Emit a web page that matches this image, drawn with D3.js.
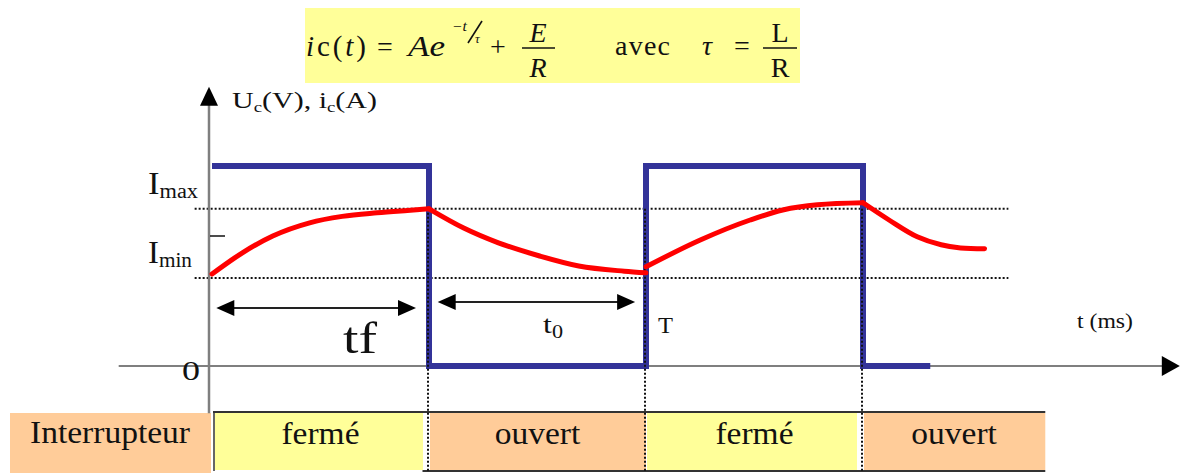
<!DOCTYPE html>
<html><head><meta charset="utf-8">
<script src="https://cdn.jsdelivr.net/npm/d3@7"></script>
<style>
body{margin:0;background:#fff}
svg{display:block}
text{font-family:"Liberation Serif","Times New Roman",serif;fill:#111}
</style>
</head><body>
<svg id="c" width="1182" height="473"></svg>
<script>
// ---------- data ----------
const switchTimes   = [0, 1, 2, 3, 3.31];
const voltageLevels = [5, 0, 5, 0, 0];

const seg1T = [0, 0.14, 0.28, 0.45, 0.6, 0.76, 0.9, 1];
const seg1I = [2.30, 2.83, 3.25, 3.58, 3.74, 3.83, 3.89, 3.93];
const seg2T = [1, 1.16, 1.32, 1.51, 1.69, 1.9, 2];
const seg2I = [3.93, 3.45, 3.08, 2.75, 2.50, 2.37, 2.33];
const seg3T = [2, 2.25, 2.48, 2.63, 2.79, 3];
const seg3I = [2.48, 3.15, 3.65, 3.90, 4.03, 4.08];
const seg4T = [3, 3.12, 3.25, 3.36, 3.45, 3.56];
const seg4I = [4.08, 3.65, 3.23, 3.03, 2.95, 2.93];

const levelNames  = ["max", "min"];
const levelValues = [3.93, 2.2];
const yTickValues = [3.25];
const zeroLabel   = "0";

const stateLabels = ["fermé", "ouvert", "fermé", "ouvert"];
const stateStarts = [0, 1, 2, 3];
const stateEnds   = [1, 2, 3, 3.84];
const rowTitle    = "Interrupteur";

// ---------- styles / layout ----------
const blue = "#333399", red = "#ff0000", yellow = "#ffff99", orange = "#ffcc99";
const svg = d3.select("#c");
const xs = d3.scaleLinear().domain([0, 3]).range([212, 863]);
const ys = d3.scaleLinear().domain([0, 5]).range([366, 166]);

function label(x, y, parts, o = {}) {
  const t = svg.append("text").attr("x", x).attr("y", y)
    .attr("font-size", o.size || 24).attr("text-anchor", o.anchor || "start");
  parts.forEach(p => {
    const s = t.append("tspan").text(p.t);
    if (p.size) s.attr("font-size", p.size);
    if (p.dy) s.attr("dy", p.dy);
    if (p.it) s.attr("font-style", "italic");
  });
  if (o.w) t.attr("textLength", o.w).attr("lengthAdjust", o.sp ? "spacing" : "spacingAndGlyphs");
  if (o.k) {
    const len = t.node().getComputedTextLength();
    t.attr("textLength", len * o.k).attr("lengthAdjust", "spacingAndGlyphs");
  }
  return t;
}

// ---------- formula ----------
svg.append("rect").attr("x", 305).attr("y", 8).attr("width", 495).attr("height", 75).attr("fill", yellow);
label(306, 56, [{t:"i", it:1}, {t:"c"}, {t:"("}, {t:"t", it:1}, {t:")"}], {size:29, w:60, sp:1});
label(377, 56, [{t:"="}], {size:28});
label(408, 56, [{t:"Ae", it:1}], {size:29, w:37});
label(452, 31, [{t:"−t", it:1}], {size:14, w:15});
svg.append("line").attr("x1", 468).attr("y1", 43).attr("x2", 482).attr("y2", 21).attr("stroke", "#111").attr("stroke-width", 1.6);
label(475, 43, [{t:"τ", it:1}], {size:13});
label(490, 56, [{t:"+"}], {size:28});
label(538, 42, [{t:"E", it:1}], {size:28, anchor:"middle"});
svg.append("line").attr("x1", 522).attr("x2", 555).attr("y1", 48).attr("y2", 48).attr("stroke", "#111").attr("stroke-width", 1.6);
label(538, 77, [{t:"R", it:1}], {size:28, anchor:"middle"});
label(615, 55, [{t:"avec"}], {size:28, w:55, sp:1});
label(702, 55, [{t:"τ", it:1}], {size:28});
label(734, 55, [{t:"="}], {size:28});
label(780, 42, [{t:"L"}], {size:28, anchor:"middle"});
svg.append("line").attr("x1", 763).attr("x2", 797).attr("y1", 48).attr("y2", 48).attr("stroke", "#111").attr("stroke-width", 1.6);
label(780, 77, [{t:"R"}], {size:28, anchor:"middle"});

// ---------- table ----------
svg.append("rect").attr("x", 10).attr("y", 413).attr("width", 201).attr("height", 60).attr("fill", orange);
label(110, 443, [{t:rowTitle}], {size:31, anchor:"middle", w:160});
stateLabels.forEach((s, i) => {
  const isY = s === "fermé";
  const x0 = xs(stateStarts[i]) + (i === 0 ? 3 : 1);
  const x1 = xs(stateEnds[i]) - (isY ? 6 : 0);
  svg.append("rect").attr("x", x0).attr("y", 413).attr("width", x1 - x0).attr("height", 57)
    .attr("fill", isY ? yellow : orange);
  label((xs(stateStarts[i]) + xs(stateEnds[i])) / 2, 444, [{t:s}], {size:31, anchor:"middle", k:1.08});
});
svg.append("line").attr("x1", xs(0) + 1).attr("x2", xs(stateEnds[3])).attr("y1", 412).attr("y2", 412).attr("stroke", "#333").attr("stroke-width", 2);
svg.append("line").attr("x1", xs(0) + 2).attr("x2", xs(0) + 2).attr("y1", 412).attr("y2", 471).attr("stroke", "#333").attr("stroke-width", 1.5);
svg.append("line").attr("x1", xs(0.97)).attr("x2", xs(stateEnds[3])).attr("y1", 471).attr("y2", 471).attr("stroke", "#333").attr("stroke-width", 2);

// ---------- reference dotted levels ----------
levelValues.forEach(v => {
  svg.append("line").attr("x1", xs(-0.08)).attr("x2", xs(3.67)).attr("y1", ys(v)).attr("y2", ys(v))
    .attr("stroke", "#111").attr("stroke-width", 2).attr("stroke-dasharray", "2,2");
});

// ---------- axes ----------
svg.append("line").attr("x1", xs(-0.43)).attr("x2", xs(4.4)).attr("y1", ys(0)).attr("y2", ys(0))
  .attr("stroke", "#7f7f7f").attr("stroke-width", 2);
svg.append("path").attr("fill", "#000")
  .attr("d", `M${xs(4.46)},${ys(0)} L${xs(4.46) - 18},${ys(0) - 10} L${xs(4.46) - 18},${ys(0) + 10} Z`);
svg.append("line").attr("x1", xs(0) - 3).attr("x2", xs(0) - 3).attr("y1", ys(6.6)).attr("y2", ys(-1.18))
  .attr("stroke", "#7f7f7f").attr("stroke-width", 2.5);
svg.append("path").attr("fill", "#000")
  .attr("d", `M${xs(0) - 3},${ys(6.98)} L${xs(0) - 12},${ys(6.98) + 19} L${xs(0) + 6},${ys(6.98) + 19} Z`);
yTickValues.forEach(v => {
  svg.append("line").attr("x1", xs(0) - 2).attr("x2", xs(0) + 13).attr("y1", ys(v)).attr("y2", ys(v))
    .attr("stroke", "#111").attr("stroke-width", 1.5);
});

// ---------- square wave ----------
const volt = switchTimes.map((t, i) => [t, voltageLevels[i]]);
svg.append("path").datum(volt).attr("fill", "none").attr("stroke", blue).attr("stroke-width", 6)
  .attr("stroke-linejoin", "miter")
  .attr("d", d3.line().x(d => xs(d[0])).y(d => ys(d[1])).curve(d3.curveStepAfter));

// vertical dotted lines at switching instants
[1, 2, 3].forEach(t => {
  svg.append("line").attr("x1", xs(t) - 1).attr("x2", xs(t) - 1).attr("y1", ys(levelValues[0])).attr("y2", 471)
    .attr("stroke", "#111").attr("stroke-width", 2).attr("stroke-dasharray", "2,2");
});

// ---------- current curve ----------
const line = d3.line().x(d => xs(d[0])).y(d => ys(d[1])).curve(d3.curveMonotoneX);
[[seg1T, seg1I], [seg2T, seg2I], [seg3T, seg3I], [seg4T, seg4I]].forEach(([T, I]) => {
  svg.append("path").datum(T.map((t, i) => [t, I[i]])).attr("fill", "none")
    .attr("stroke", red).attr("stroke-width", 5).attr("stroke-linecap", "round").attr("d", line);
});

// ---------- double arrows ----------
function dblArrow(t0, t1, v) {
  const a = xs(t0), b = xs(t1), y = ys(v);
  svg.append("line").attr("x1", a + 10).attr("x2", b - 10).attr("y1", y).attr("y2", y).attr("stroke", "#222").attr("stroke-width", 2);
  svg.append("path").attr("fill", "#000").attr("d", `M${a},${y} L${a + 18},${y - 8} L${a + 18},${y + 8} Z`);
  svg.append("path").attr("fill", "#000").attr("d", `M${b},${y} L${b - 18},${y - 8} L${b - 18},${y + 8} Z`);
}
dblArrow(0.02, 0.94, 1.45);
dblArrow(1.04, 1.95, 1.6);

// ---------- labels ----------
label(232, 108, [{t:"U"}, {t:"c", size:15, dy:4}, {t:"(V), i", dy:-4}, {t:"c", size:15, dy:4}, {t:"(A)", dy:-4}], {size:24, w:145});
levelNames.forEach((n, i) => {
  const y = ys(levelValues[i]) - 15;
  label(148, y, [{t:"I"}, {t:n, size:20, dy:4}], {size:31, w: n === "max" ? 50 : 44});
});
label(182, 380, [{t:zeroLabel}], {size:28, w:18});
label(343, 353, [{t:"tf"}], {size:44, w:34});
label(543, 333, [{t:"t"}, {t:"0", size:18, dy:5}], {size:26, w:20});
label(658, 333, [{t:"T"}], {size:24, w:15});
label(1077, 328, [{t:"t (ms)"}], {size:20, w:56});
</script>
</body></html>
